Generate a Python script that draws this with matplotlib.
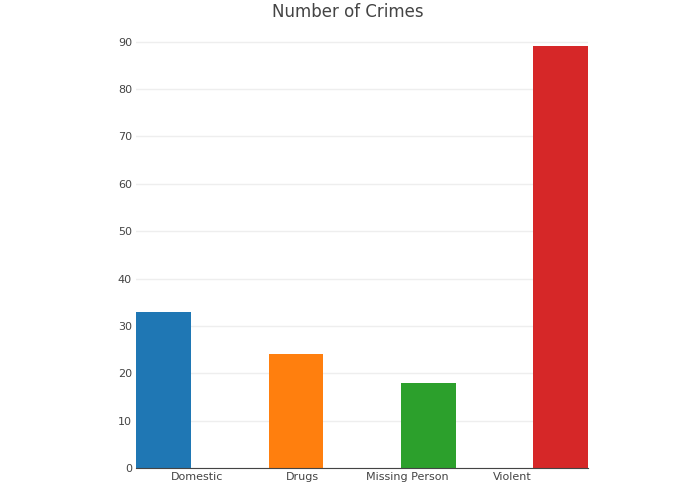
import numpy as np
import matplotlib.pyplot as plt

categories = ['Domestic', 'Drugs', 'Missing Person', 'Violent']
counts = [33, 24, 18, 89]
colors = ['#1f77b4', '#ff7f0e', '#2ca02c', '#d62728']

# bars sit offset inside each category slot, like plotly's grouped traces
offsets = [-0.32, -0.06, 0.2, 0.46]
bar_w = 0.52

fig = plt.figure(figsize=(6.95, 4.94), dpi=100)
ax = fig.add_axes([0.196, 0.0526, 0.65, 0.896])
x = np.arange(len(categories))
for i in range(len(categories)):
    ax.bar(x[i] + offsets[i], counts[i], width=bar_w, color=colors[i], zorder=2)

ax.set_xlim(-0.58, 3.72)
ax.set_ylim(0, max(counts) * 1.05)
ax.set_yticks(range(0, 91, 10))
ax.set_xticks(x)
ax.set_xticklabels(categories)
ax.tick_params(length=0, labelsize=8, colors='#444444', pad=3)
ax.grid(axis='y', color='#eeeeee', linewidth=1, zorder=0)
for s in ['top', 'right', 'left']:
    ax.spines[s].set_visible(False)
ax.spines['bottom'].set_color('#444444')
fig.text(0.5, 0.975, 'Number of Crimes', ha='center', va='center', fontsize=12, color='#444444')
fig.savefig('out.png')
